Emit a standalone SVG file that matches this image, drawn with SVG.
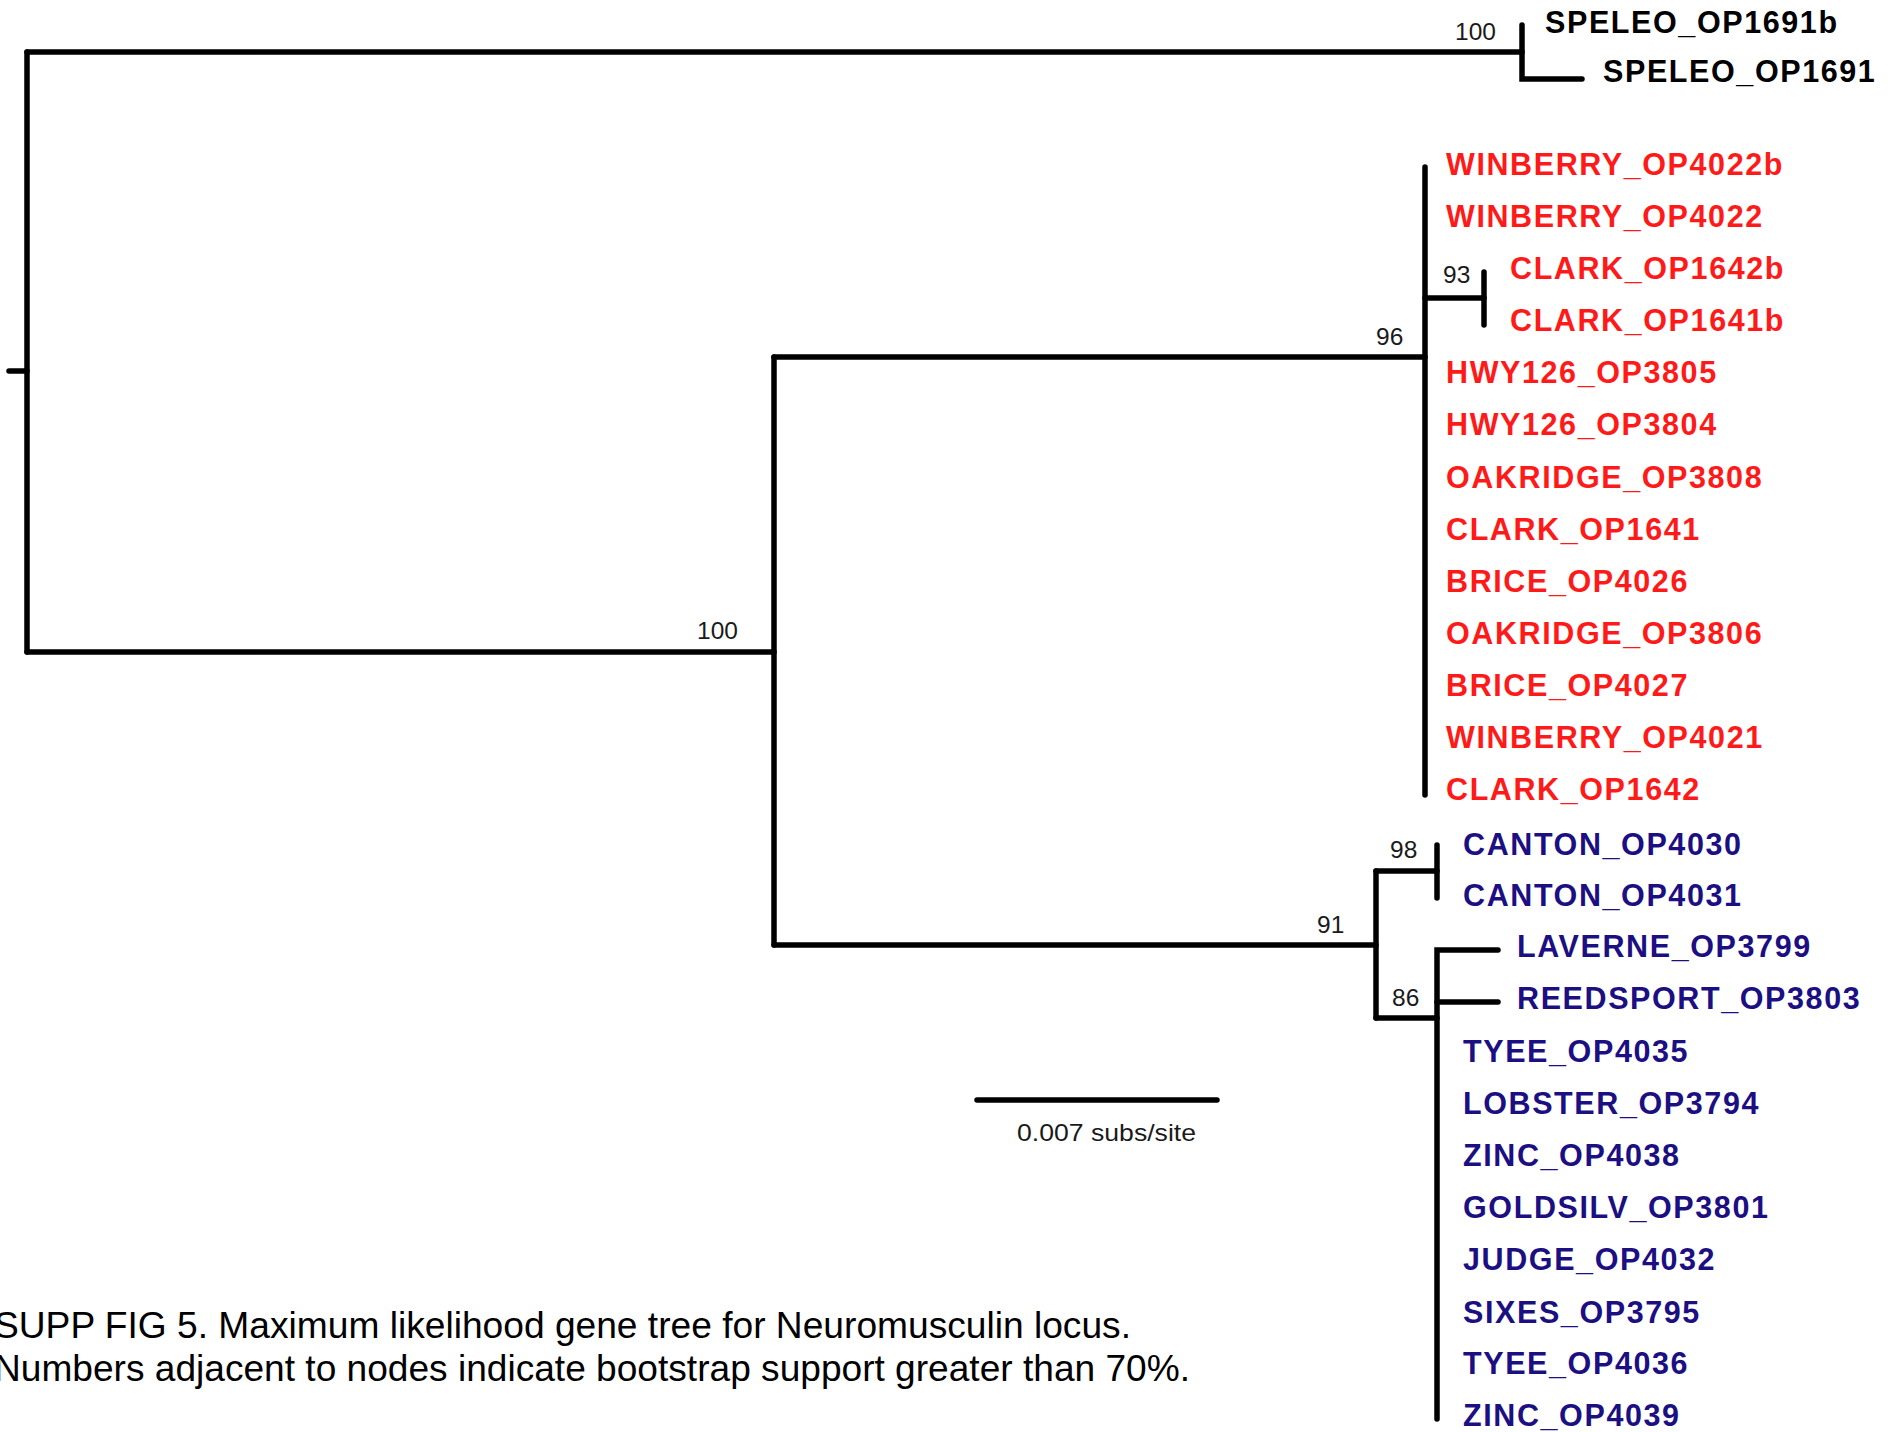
<svg xmlns="http://www.w3.org/2000/svg" width="1900" height="1432" viewBox="0 0 1900 1432">
<style>
.br{fill:none;stroke:#000;stroke-width:5.5;stroke-linecap:round;stroke-linejoin:miter}
.tip{font-family:"Liberation Sans",Arial,sans-serif;font-weight:bold;font-size:30.5px;letter-spacing:1.6px}
.k{fill:#000}
.r{fill:#ff1a1a}
.b{fill:#1c0f82}
.sup{font-family:"Liberation Sans",Arial,sans-serif;font-size:24.5px;fill:#1a1a1a}
.cap{font-family:"Liberation Sans",Arial,sans-serif;font-size:36px;fill:#000}
</style>
<rect width="1900" height="1432" fill="#fff"/>
<g id="connectors">
<path class="br" d="M9,371 H27"/>
<path class="br" d="M27,52 V652"/>
<path class="br" d="M27,52 H1522"/>
<path class="br" d="M1522,25 V79 H1582"/>
<path class="br" d="M27,652 H774"/>
<path class="br" d="M774,357 V945"/>
<path class="br" d="M774,357 H1425"/>
<path class="br" d="M1425,167 V795"/>
<path class="br" d="M1425,298 H1484"/>
<path class="br" d="M1484,272 V325"/>
<path class="br" d="M774,945 H1376"/>
<path class="br" d="M1376,871 V1018"/>
<path class="br" d="M1376,871 H1437"/>
<path class="br" d="M1437,845 V898"/>
<path class="br" d="M1376,1018 H1437"/>
<path class="br" d="M1498,950 H1437 V1419"/>
<path class="br" d="M1437,1002 H1498"/>
<path class="br" d="M977,1100 H1217"/>
</g>
<g id="support">
<text class="sup" x="1455" y="40">100</text>
<text class="sup" x="697" y="639">100</text>
<text class="sup" x="1376" y="345">96</text>
<text class="sup" x="1443" y="283">93</text>
<text class="sup" x="1390" y="858">98</text>
<text class="sup" x="1317" y="933">91</text>
<text class="sup" x="1392" y="1006">86</text>
</g>
<g id="n_speleo_op1691b"><text class="tip k" x="1545" y="33">SPELEO_OP1691b</text></g>
<g id="n_speleo_op1691"><text class="tip k" x="1603" y="82">SPELEO_OP1691</text></g>
<g id="n_winberry_op4022b"><text class="tip r" x="1446" y="175">WINBERRY_OP4022b</text></g>
<g id="n_winberry_op4022"><text class="tip r" x="1446" y="227">WINBERRY_OP4022</text></g>
<g id="n_clark_op1642b"><text class="tip r" x="1510" y="279">CLARK_OP1642b</text></g>
<g id="n_clark_op1641b"><text class="tip r" x="1510" y="331">CLARK_OP1641b</text></g>
<g id="n_hwy126_op3805"><text class="tip r" x="1446" y="383">HWY126_OP3805</text></g>
<g id="n_hwy126_op3804"><text class="tip r" x="1446" y="435">HWY126_OP3804</text></g>
<g id="n_oakridge_op3808"><text class="tip r" x="1446" y="488">OAKRIDGE_OP3808</text></g>
<g id="n_clark_op1641"><text class="tip r" x="1446" y="540">CLARK_OP1641</text></g>
<g id="n_brice_op4026"><text class="tip r" x="1446" y="592">BRICE_OP4026</text></g>
<g id="n_oakridge_op3806"><text class="tip r" x="1446" y="644">OAKRIDGE_OP3806</text></g>
<g id="n_brice_op4027"><text class="tip r" x="1446" y="696">BRICE_OP4027</text></g>
<g id="n_winberry_op4021"><text class="tip r" x="1446" y="748">WINBERRY_OP4021</text></g>
<g id="n_clark_op1642"><text class="tip r" x="1446" y="800">CLARK_OP1642</text></g>
<g id="n_canton_op4030"><text class="tip b" x="1463" y="855">CANTON_OP4030</text></g>
<g id="n_canton_op4031"><text class="tip b" x="1463" y="906">CANTON_OP4031</text></g>
<g id="n_laverne_op3799"><text class="tip b" x="1517" y="957">LAVERNE_OP3799</text></g>
<g id="n_reedsport_op3803"><text class="tip b" x="1517" y="1009">REEDSPORT_OP3803</text></g>
<g id="n_tyee_op4035"><text class="tip b" x="1463" y="1062">TYEE_OP4035</text></g>
<g id="n_lobster_op3794"><text class="tip b" x="1463" y="1114">LOBSTER_OP3794</text></g>
<g id="n_zinc_op4038"><text class="tip b" x="1463" y="1166">ZINC_OP4038</text></g>
<g id="n_goldsilv_op3801"><text class="tip b" x="1463" y="1218">GOLDSILV_OP3801</text></g>
<g id="n_judge_op4032"><text class="tip b" x="1463" y="1270">JUDGE_OP4032</text></g>
<g id="n_sixes_op3795"><text class="tip b" x="1463" y="1323">SIXES_OP3795</text></g>
<g id="n_tyee_op4036"><text class="tip b" x="1463" y="1374">TYEE_OP4036</text></g>
<g id="n_zinc_op4039"><text class="tip b" x="1463" y="1426">ZINC_OP4039</text></g>
<g id="scale">
<text class="sup" x="1017" y="1141" font-size="26" textLength="179" lengthAdjust="spacingAndGlyphs">0.007 subs/site</text>
</g>
<g id="caption">
<text class="cap" x="-6" y="1338" textLength="1137" lengthAdjust="spacingAndGlyphs">SUPP FIG 5. Maximum likelihood gene tree for Neuromusculin locus.</text>
<text class="cap" x="-6" y="1381" textLength="1196" lengthAdjust="spacingAndGlyphs">Numbers adjacent to nodes indicate bootstrap support greater than 70%.</text>
</g>
</svg>
